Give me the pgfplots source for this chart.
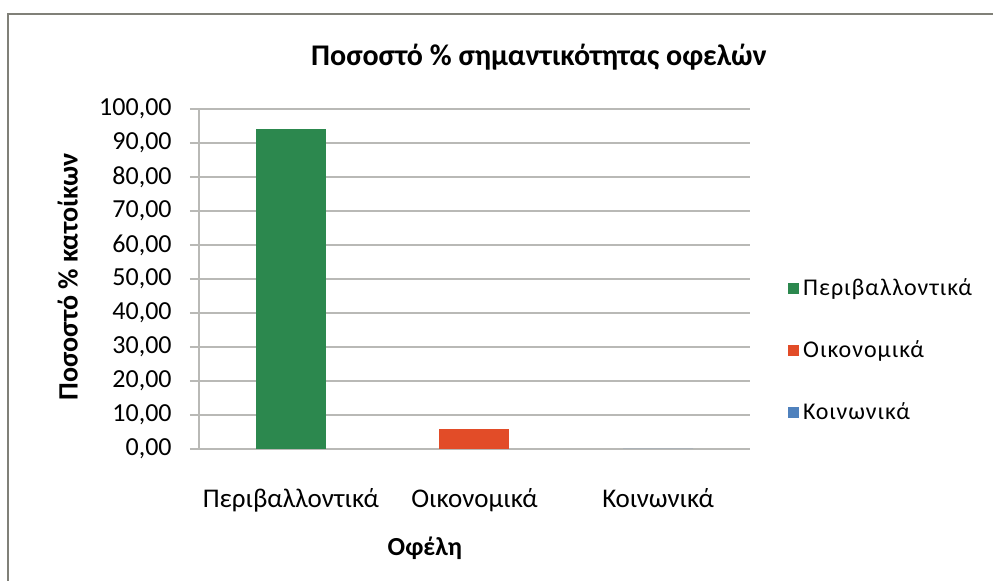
\documentclass[border=0pt]{standalone}
\usepackage{fontspec}
\setmainfont{Carlito}
\usepackage{pgfplots}
\pgfplotsset{compat=1.18}
\definecolor{cgreen}{RGB}{44,136,78}
\definecolor{corange}{RGB}{226,76,40}
\definecolor{cblue}{RGB}{79,129,189}
\definecolor{cgrid}{RGB}{185,185,182}
\definecolor{cframe}{RGB}{128,128,120}
\begin{document}
\begin{tikzpicture}
\path[use as bounding box] (-99.5pt,-66pt) rectangle (397pt,224.5pt);
\draw[cframe, line width=1pt] (-95.5pt,-66pt) -- (-95.5pt,217.5pt) -- (397pt,217.5pt);
\begin{axis}[
  at={(0pt,0pt)}, anchor=south west,
  scale only axis, width=275.5pt, height=170pt,
  xmin=-0.5, xmax=2.5, ymin=0, ymax=100,
  ytick={0,10,...,100},
  xtick={0,1,2},
  xticklabels={Περιβαλλοντικά, Οικονομικά, Κοινωνικά},
  axis x line*=bottom, axis y line*=left,
  x axis line style={draw=cgrid, line width=0.8pt, -},
  y axis line style={draw=cgrid, line width=0.8pt, -},
  xtick style={draw=none},
  ytick style={draw=cgrid, line width=0.6pt},
  tick align=outside, major tick length=4.5pt,
  ymajorgrids, grid style={draw=cgrid, line width=0.6pt},
  /pgf/number format/.cd, assume math mode=true, fixed, fixed zerofill, precision=2, use comma, 1000 sep={},
  /pgfplots/.cd,
  yticklabel style={font=\fontsize{13}{15}\selectfont, anchor=east, inner sep=0pt, xshift=-9pt},
  xticklabel style={font=\fontsize{13.5}{16}\selectfont, anchor=base, inner sep=0pt, yshift=-25pt},
  title={Ποσοστό \% σημαντικότητας οφελών},
  title style={font=\bfseries\fontsize{15}{18}\selectfont, at={(axis description cs:0.617,1.118)}, anchor=center},
  xlabel={Οφέλη},
  xlabel style={font=\bfseries\fontsize{13}{16}\selectfont, at={(axis description cs:0.41,-0.291)}, anchor=center},
  ylabel={Ποσοστό \% κατοίκων},
  ylabel style={font=\bfseries\fontsize{14}{16}\selectfont, at={(axis description cs:-0.238,0.506)}, anchor=center, rotate=0},
  legend style={draw=none, fill=none, at={(axis description cs:1.069,0.29)}, anchor=west,
    font=\fontsize{12}{14}\selectfont\addfontfeatures{LetterSpace=4}, row sep=17pt, inner sep=0pt},
  legend cell align=left,
  legend image code/.code={\fill[#1] (0pt,-2.7pt) rectangle (5.4pt,2.7pt);},
]
\addplot[ybar, bar width=35pt, bar shift=0pt, fill=cgreen, draw=none] coordinates {(0,94.2)};
\addlegendentry{Περιβαλλοντικά}
\addplot[ybar, bar width=35pt, bar shift=0pt, fill=corange, draw=none] coordinates {(1,5.8)};
\addlegendentry{Οικονομικά}
\addplot[ybar, bar width=35pt, bar shift=0pt, fill=cblue, draw=none] coordinates {(2,0)};
\addlegendentry{Κοινωνικά}
\end{axis}
\end{tikzpicture}
\end{document}
